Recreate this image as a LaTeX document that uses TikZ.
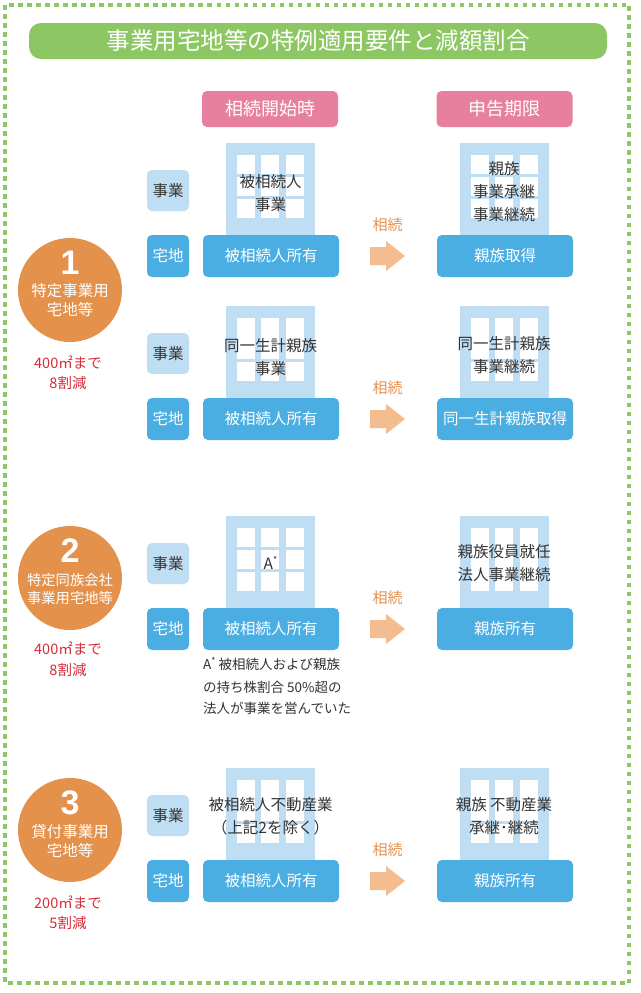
\documentclass[tikz,border=0pt]{standalone}
\usepackage{fontspec}
\setmainfont{Noto Sans CJK JP}
\newfontfamily\numfont{Liberation Sans}
\definecolor{grn}{HTML}{8CC764}
\definecolor{pnk}{HTML}{E7809F}
\definecolor{lblue}{HTML}{BFDDF3}
\definecolor{dblue}{HTML}{4BAEE3}
\definecolor{orng}{HTML}{E3914B}
\definecolor{peach}{HTML}{F4BD8F}
\definecolor{lblc}{HTML}{E8924F}
\definecolor{redt}{HTML}{D92B3A}
\definecolor{txt}{HTML}{333333}
\newcommand*\mfs{\fontsize{15.5}{23}\selectfont}
\newcommand\mbldg[3]{%
  \fill[lblue] (#1,#2) rectangle (#1+89,#2+95);
  \foreach \cx in {11,35,59.5}{\foreach \ya/\yb in {#3}{%
    \fill[white] (#1+\cx,#2+\ya) rectangle (#1+\cx+18,#2+\yb);}}%
}
\newcommand\marrow[1]{%
  \fill[peach] (370,#1-9) -- (386,#1-9) -- (386,#1-15) -- (405,#1) -- (386,#1+15) -- (386,#1+9) -- (370,#1+9) -- cycle;%
}
\newcommand*\mast{\raisebox{0.38em}{\fontsize{9}{9}\selectfont *}}
\begin{document}
\begin{tikzpicture}[x=1pt,y=-1pt,
  titlebar/.style={fill=grn, rounded corners=12pt, minimum width=578pt, minimum height=36pt, inner sep=0pt, text=white, font=\fontsize{23.5}{26}\selectfont},
  hdr/.style={fill=pnk, rounded corners=5pt, minimum width=136pt, minimum height=36pt, inner sep=0pt, text=white, font=\fontsize{18}{20}\selectfont},
  jbox/.style={fill=lblue, rounded corners=5pt, minimum width=42pt, minimum height=41pt, inner sep=0pt, text=txt, font=\mfs},
  tbox/.style={fill=dblue, rounded corners=5pt, minimum width=42pt, minimum height=42pt, inner sep=0pt, text=white, font=\mfs},
  bar/.style={fill=dblue, rounded corners=5pt, minimum width=136pt, minimum height=42pt, inner sep=0pt, text=white, font=\mfs},
  btxt/.style={text=txt, align=center, inner sep=0pt, font=\mfs},
  badge/.style={circle, fill=orng, minimum size=104pt, inner sep=0pt},
  numtxt/.style={text=white, inner sep=0pt, font=\numfont\bfseries\fontsize{34}{36}\selectfont},
  badgetxt/.style={text=white, align=center, inner sep=0pt, font=\fontsize{15.5}{19}\selectfont},
  badgetxts/.style={text=white, align=center, inner sep=0pt, font=\fontsize{14.3}{18.5}\selectfont},
  redtxt/.style={text=redt, align=center, inner sep=0pt, font=\fontsize{14.5}{20.5}\selectfont},
  lbl/.style={text=lblc, inner sep=0pt, font=\fontsize{15}{17}\selectfont},
  notetxt/.style={text=txt, anchor=west, inner sep=0pt, font=\fontsize{13.5}{16}\selectfont}
]
\useasboundingbox (0,0) rectangle (640,993);
\fill[white] (0,0) rectangle (640,993);
% border
\draw[grn, line width=4.5pt, dash pattern=on 4.5pt off 4.5pt] (5,5) rectangle (629,983);
% title and headers
\node[titlebar] (title) at (318,41) {事業用宅地等の特例適用要件と減額割合};
\node[hdr] (h1) at (270,109) {相続開始時};
\node[hdr] (h2) at (504.5,109) {申告期限};

% ---------- Row 1 (section 1, upper)
\mbldg{226}{143}{12/31,34/53,56/75}
\mbldg{460}{143}{12/31,34/53,56/75}
\node[jbox] (j1) at (168,190.5) {事業};
\node[tbox] (t1) at (168,256) {宅地};
\node[bar] (bl1) at (271,256) {被相続人所有};
\node[bar] (br1) at (505,256) {親族取得};
\node[lbl] (s1) at (387.5,225) {相続};
\marrow{256}
\node[btxt] (lt1) at (270.5,193) {被相続人\\事業};
\node[btxt] (rt1) at (504,191.5) {親族\\事業承継\\事業継続};

% ---------- Row 2 (section 1, lower)
\mbldg{226}{306}{12/53,56/75}
\mbldg{460}{306}{12/53,56/75}
\node[jbox] (j2) at (168,353.5) {事業};
\node[tbox] (t2) at (168,419) {宅地};
\node[bar] (bl2) at (271,419) {被相続人所有};
\node[bar] (br2) at (505,419) {同一生計親族取得};
\node[lbl] (s2) at (387.5,388) {相続};
\marrow{419}
\node[btxt] (lt2) at (270.5,357) {同一生計親族\\事業};
\node[btxt] (rt2) at (504,355) {同一生計親族\\事業継続};

% ---------- Row 3 (section 2)
\mbldg{226}{516}{12/31,34/53,56/75}
\mbldg{460}{516}{12/75}
\node[jbox] (j3) at (168,563.5) {事業};
\node[tbox] (t3) at (168,629) {宅地};
\node[bar] (bl3) at (271,629) {被相続人所有};
\node[bar] (br3) at (505,629) {親族所有};
\node[lbl] (s3) at (387.5,598) {相続};
\marrow{629}
\node[btxt] (lt3) at (270.5,563) {A\mast};
\node[btxt] (rt3) at (504,563.5) {親族役員就任\\法人事業継続};
\node[notetxt] (n1) at (203,664) {A\mast{} 被相続人および親族};
\node[notetxt] (n2) at (203,687) {の持ち株割合 50\%超の};
\node[notetxt] (n3) at (203,708.5) {法人が事業を営んでいた};

% ---------- Row 4 (section 3)
\mbldg{226}{768}{12/53,56/75}
\mbldg{460}{768}{12/53,56/75}
\node[jbox] (j4) at (168,815.5) {事業};
\node[tbox] (t4) at (168,881) {宅地};
\node[bar] (bl4) at (271,881) {被相続人所有};
\node[bar] (br4) at (505,881) {親族所有};
\node[lbl] (s4) at (387.5,850) {相続};
\marrow{881}
\node[btxt] (lt4) at (270.5,816.5) {被相続人不動産業\\（上記2を除く）};
\node[btxt] (rt4) at (504,816.5) {親族 不動産業\\承継･継続};

% ---------- badges
\node[badge] (c1) at (70,290) {};
\node[numtxt] (d1) at (70,263) {1};
\node[badgetxt] (b1) at (70,300.5) {特定事業用\\宅地等};
\node[redtxt] (r1) at (68,373) {400㎡まで\\8割減};

\node[badge] (c2) at (70,578) {};
\node[numtxt] (d2) at (70,551) {2};
\node[badgetxts] (b2) at (70,589) {特定同族会社\\事業用宅地等};
\node[redtxt] (r2) at (68,659.5) {400㎡まで\\8割減};

\node[badge] (c3) at (70,830) {};
\node[numtxt] (d3) at (70,803) {3};
\node[badgetxt] (b3) at (70,841) {貸付事業用\\宅地等};
\node[redtxt] (r3) at (68,913) {200㎡まで\\5割減};
\end{tikzpicture}
\end{document}
